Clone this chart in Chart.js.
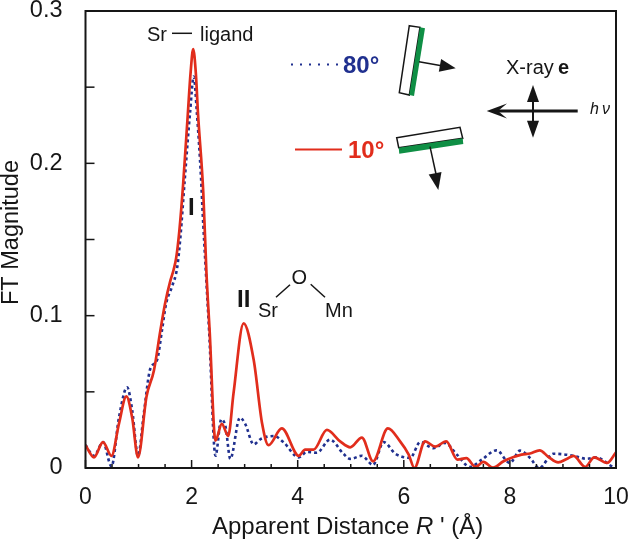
<!DOCTYPE html>
<html>
<head>
<meta charset="utf-8">
<style>
  html, body { margin: 0; padding: 0; background: #fff; }
  #wrap { width: 628px; height: 542px; }
</style>
<script src="https://cdn.jsdelivr.net/npm/chart.js@4"></script>
</head>
<body>
<div id="wrap"><canvas id="ftChart" width="628" height="542"></canvas></div>
<script>
const redX = [0, 0.16, 0.33, 0.49, 0.63, 0.77, 0.88, 0.99, 1.15, 1.29, 1.41, 1.5, 1.6, 1.66, 1.71, 1.77, 1.84, 1.93, 1.98, 2.03, 2.08, 2.12, 2.22, 2.28, 2.34, 2.45, 2.57, 2.69, 2.79, 2.98, 3.17, 3.33, 3.45, 3.7, 4.02, 4.14, 4.3, 4.55, 4.8, 4.99, 5.21, 5.42, 5.7, 5.93, 6.09, 6.2, 6.4, 6.59, 6.8, 7.01, 7.18, 7.35, 7.5, 7.68, 7.88, 8.07, 8.22, 8.38, 8.56, 8.73, 8.91, 9.07, 9.2, 9.42, 9.59, 9.83, 10];
const redY = [0.015, 0.007, 0.017, 0.008, 0.029, 0.047, 0.033, 0.007, 0.047, 0.064, 0.09, 0.108, 0.123, 0.13, 0.138, 0.156, 0.186, 0.233, 0.259, 0.275, 0.259, 0.233, 0.181, 0.128, 0.09, 0.018, 0.029, 0.021, 0.049, 0.095, 0.071, 0.029, 0.015, 0.026, 0.008, 0.012, 0.012, 0.025, 0.0175, 0.0136, 0.02, 0.0044, 0.026, 0.0175, 0.009, 0, 0.0175, 0.014, 0.0175, 0.0055, 0.0065, 0.0007, 0.004, 0.0002, 0.0044, 0.0072, 0.0088, 0.0095, 0.0116, 0.0072, 0.0037, 0.0059, 0.008, 0.0007, 0.007, 0.0033, 0.0103];

const blueX = [0, 0.16, 0.33, 0.49, 0.63, 0.785, 0.88, 0.99, 1.1, 1.22, 1.35, 1.44, 1.52, 1.63, 1.73, 1.79, 1.87, 1.97, 2.04, 2.1, 2.18, 2.205, 2.27, 2.33, 2.45, 2.56, 2.64, 2.73, 2.91, 3.01, 3.17, 3.3, 3.55, 3.73, 4.02, 4.17, 4.36, 4.61, 4.86, 4.99, 5.21, 5.42, 5.62, 5.84, 6.12, 6.31, 6.56, 6.78, 7, 7.25, 7.47, 7.75, 8, 8.19, 8.38, 8.55, 8.82, 9.2, 9.45, 9.63, 9.98, 10];
const blueY = [0.015, 0.008, 0.017, 0.001, 0.033, 0.053, 0.038, 0.008, 0.036, 0.065, 0.071, 0.09, 0.108, 0.119, 0.132, 0.152, 0.189, 0.233, 0.257, 0.233, 0.189, 0.17, 0.128, 0.09, 0.008, 0.032, 0.027, 0.006, 0.033, 0.029, 0.0155, 0.019, 0.021, 0.017, 0.007, 0.0105, 0.01, 0.0186, 0.0094, 0.006, 0.008, 0.002, 0.017, 0.0094, 0.0066, 0.017, 0.013, 0.0164, 0.0088, 0.0007, 0.0055, 0.0116, 0.0033, 0.0114, 0.0066, 0, 0.0094, 0.008, 0.006, 0.007, 0.0007, 0.001];

const xTicks = [0, 0.5, 1, 1.5, 2, 2.5, 3, 3.5, 4, 4.5, 5, 5.5, 6, 6.5, 7, 7.5, 8, 8.5, 9, 9.5, 10];
const xLabelled = [0, 2, 4, 6, 8, 10];
const yTicks = [0, 0.05, 0.1, 0.15, 0.2, 0.25, 0.3];
const yLabelled = [0, 0.1, 0.2, 0.3];

const RED = '#e12d1c';
const BLUE = '#20308f';
const GREEN = '#0f8f45';
const INK = '#161616';
const FONT = '"Liberation Sans", Arial, sans-serif';

function text(c, str, x, y, font, color) {
  c.font = font + ' ' + FONT;
  c.fillStyle = color || INK;
  c.fillText(str, x, y);
}

function line(c, x1, y1, x2, y2, w, color, dash) {
  c.beginPath();
  c.setLineDash(dash || []);
  c.lineWidth = w;
  c.strokeStyle = color || INK;
  c.moveTo(x1, y1);
  c.lineTo(x2, y2);
  c.stroke();
  c.setLineDash([]);
}

function poly(c, pts, fill, stroke) {
  c.beginPath();
  pts.forEach((p, i) => i ? c.lineTo(p[0], p[1]) : c.moveTo(p[0], p[1]));
  c.closePath();
  if (fill) { c.fillStyle = fill; c.fill(); }
  if (stroke) { c.lineWidth = 1.5; c.strokeStyle = stroke; c.stroke(); }
}

function arrowHead(c, x1, y1, x2, y2, len, half) {
  const a = Math.atan2(y2 - y1, x2 - x1);
  const bx = x2 - len * Math.cos(a);
  const by = y2 - len * Math.sin(a);
  poly(c, [[x2, y2],
    [bx - half * Math.sin(a), by + half * Math.cos(a)],
    [bx + half * Math.sin(a), by - half * Math.cos(a)]], INK);
}

const annotations = {
  id: 'annotations',
  afterDraw(chart) {
    const c = chart.ctx;
    const a = chart.chartArea;
    const sx = chart.scales.x;
    const sy = chart.scales.y;
    c.save();
    c.textBaseline = 'alphabetic';
    c.textAlign = 'left';

    // frame + inward ticks
    c.lineWidth = 2;
    c.strokeStyle = INK;
    c.strokeRect(a.left, a.top, a.right - a.left, a.bottom - a.top);
    xTicks.forEach(v => {
      const len = xLabelled.includes(v) ? 8 : 4;
      line(c, sx.getPixelForValue(v), a.bottom, sx.getPixelForValue(v), a.bottom - len, 1.5);
    });
    yTicks.forEach(v => {
      line(c, a.left, sy.getPixelForValue(v), a.left + 9, sy.getPixelForValue(v), 1.5);
    });

    // axis titles, italic R needs its own run
    let tx = 212;
    text(c, 'Apparent Distance ', tx, 534, '24px');
    tx += c.measureText('Apparent Distance ').width;
    text(c, 'R', tx, 534, 'italic 24px');
    tx += c.measureText('R').width;
    text(c, " ' (Å)", tx, 534, '24px');

    c.save();
    c.translate(18, 305);
    c.rotate(-Math.PI / 2);
    text(c, 'FT Magnitude', 0, 0, '23.5px');
    c.restore();

    // peak labels
    text(c, 'Sr', 147, 40.7, '20px');
    line(c, 172, 33.3, 192, 33.3, 1.5);
    text(c, 'ligand', 200, 40.7, '20px');
    text(c, 'I', 188, 215, 'bold 24px');
    text(c, 'II', 237, 307, 'bold 24px');
    text(c, 'O', 291.5, 284, '20px');
    text(c, 'Sr', 258, 317, '20px');
    text(c, 'Mn', 325, 317, '20px');
    line(c, 276, 297.3, 290, 284.7, 1.5);
    line(c, 310.7, 284.3, 325, 297.3, 1.5);

    // legend
    line(c, 291, 64.5, 338, 64.5, 2, BLUE, [2, 7]);
    text(c, '80°', 343, 72.5, 'bold 24px', BLUE);
    line(c, 295, 149.5, 342, 149.5, 2, RED);
    text(c, '10°', 348, 158, 'bold 24px', RED);

    // sample at 80 degrees
    poly(c, [[409.3, 25.7], [420, 27.3], [409.3, 95], [399.3, 92.7]], '#fff', INK);
    poly(c, [[420, 27.3], [425, 28.3], [414, 96], [409.3, 95]], GREEN);
    line(c, 419, 61.7, 443, 66, 1.5);
    arrowHead(c, 419, 61.7, 455.7, 68.3, 16, 6.5);

    // sample at 10 degrees
    poly(c, [[396.7, 137.7], [460, 127.3], [462.7, 138.3], [398.7, 147.7]], '#fff', INK);
    poly(c, [[398.7, 147.7], [462.7, 138.3], [463.3, 144], [399.3, 153.7]], GREEN);
    line(c, 430, 146.7, 436, 174, 1.5);
    arrowHead(c, 430, 146.7, 438.3, 190, 17, 6.5);

    // X-ray beam and polarisation
    text(c, 'X-ray', 506, 74, '20px');
    text(c, 'e', 558, 74, 'bold 20px');
    line(c, 577.7, 111, 497, 111, 3);
    poly(c, [[486.7, 111], [507, 103.5], [498, 111], [507, 118.5]], INK);
    line(c, 533, 96, 533, 126, 2);
    arrowHead(c, 533, 102, 533, 85, 17, 6);
    arrowHead(c, 533, 121, 533, 137.7, 17, 6);
    text(c, 'h', 590, 114, 'italic 16px');
    text(c, 'ν', 602, 114, 'italic 16px');
    c.restore();
  }
};

const ctx = document.getElementById('ftChart').getContext('2d');

const ftChart = new Chart(ctx, {
  type: 'scatter',
  data: {
    datasets: [
      {
        label: '10°',
        data: redX.map((x, i) => ({ x: x, y: redY[i] })),
        showLine: true,
        borderColor: RED,
        borderWidth: 2.7,
        pointRadius: 0,
        cubicInterpolationMode: 'monotone'
      },
      {
        label: '80°',
        data: blueX.map((x, i) => ({ x: x, y: blueY[i] })),
        showLine: true,
        borderColor: BLUE,
        borderWidth: 2.6,
        borderDash: [3, 3],
        pointRadius: 0,
        cubicInterpolationMode: 'monotone'
      }
    ]
  },
  options: {
    responsive: false,
    animation: false,
    layout: { padding: { top: 11, right: 12, bottom: 0, left: 0 } },
    plugins: {
      legend: { display: false },
      tooltip: { enabled: false }
    },
    scales: {
      x: {
        type: 'linear',
        min: 0,
        max: 10,
        afterFit: (s) => { s.height = 74; s.paddingRight = 0; s.paddingLeft = 0; },
        afterBuildTicks: (s) => { s.ticks = xLabelled.map(v => ({ value: v })); },
        grid: { display: false },
        border: { display: false },
        ticks: {
          color: INK,
          padding: 8,
          maxRotation: 0,
          autoSkip: false,
          font: { family: FONT, size: 23 }
        }
      },
      y: {
        type: 'linear',
        min: 0,
        max: 0.3,
        afterFit: (s) => { s.width = 85.5; s.paddingTop = 0; s.paddingBottom = 0; },
        afterBuildTicks: (s) => { s.ticks = yLabelled.map(v => ({ value: v })); },
        grid: { display: false },
        border: { display: false },
        ticks: {
          color: INK,
          padding: 15,
          autoSkip: false,
          callback: (value) => value === 0 ? '0' : value.toFixed(1),
          font: { family: FONT, size: 23.5 }
        }
      }
    }
  },
  plugins: [annotations]
});
</script>
</body>
</html>
